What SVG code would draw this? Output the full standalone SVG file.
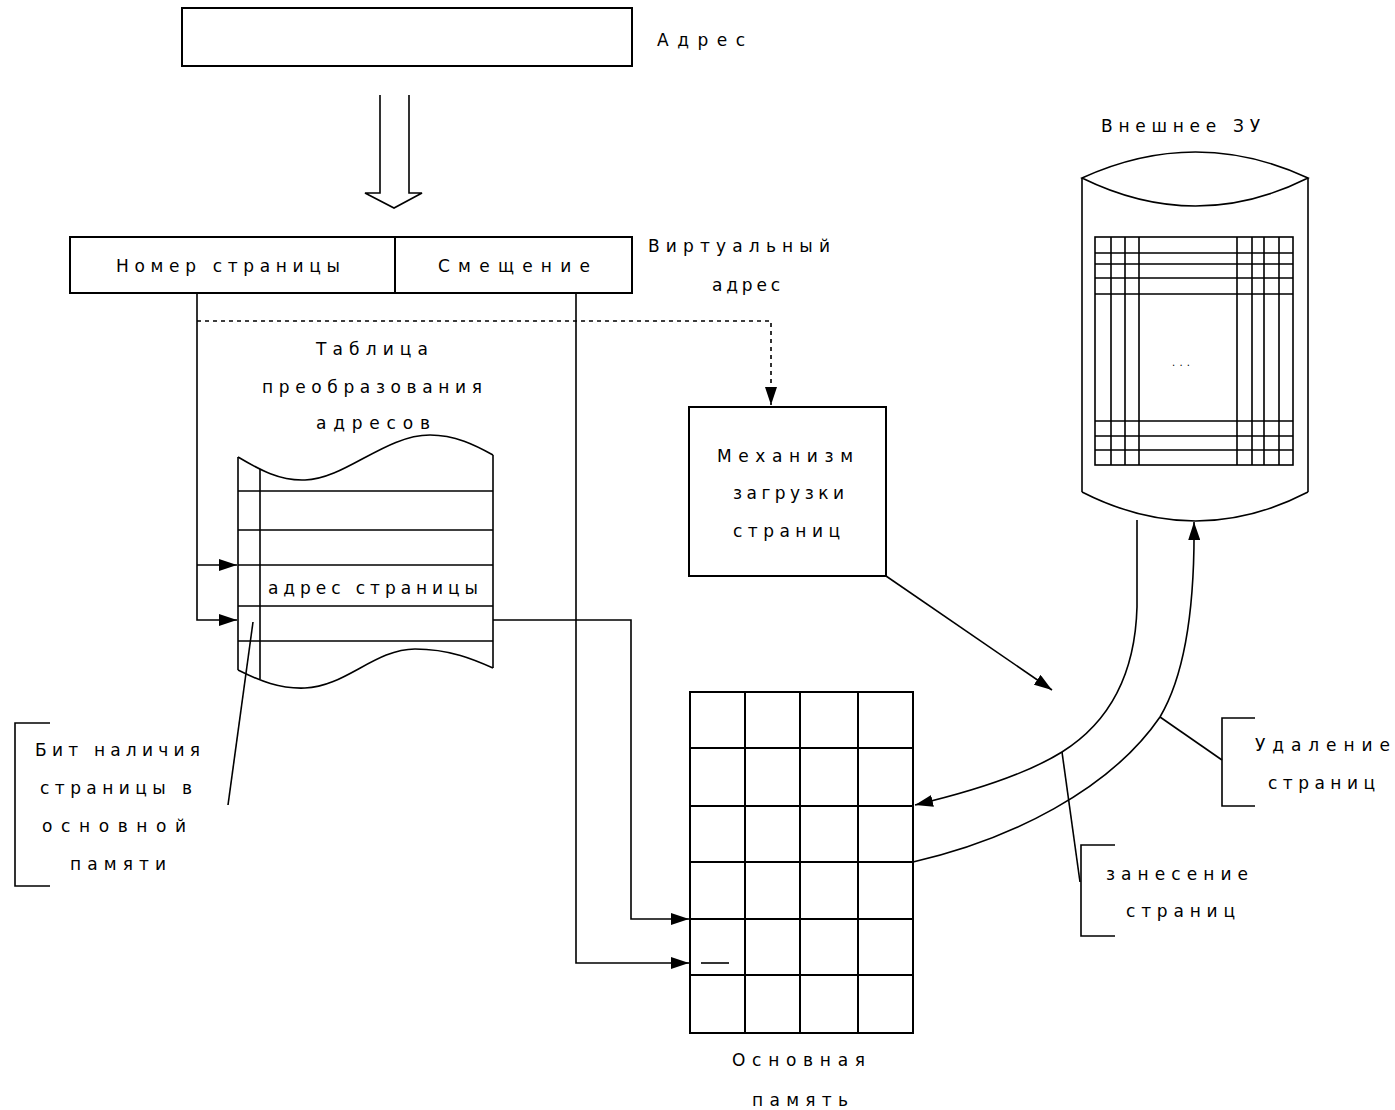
<svg xmlns="http://www.w3.org/2000/svg" width="1395" height="1110" viewBox="0 0 1395 1110">
<style>
.s{fill:none;stroke:#000;stroke-width:2}
.l{fill:none;stroke:#000;stroke-width:1.6}
.t{font-family:"DejaVu Sans","Liberation Sans",sans-serif;font-size:17px;fill:#000}
</style>
<defs>
<marker id="ah" viewBox="0 0 18 12" refX="18" refY="6" markerWidth="18" markerHeight="12" markerUnits="userSpaceOnUse" orient="auto">
<path d="M0,0 L18,6 L0,12 Z" fill="#000"/>
</marker>
</defs>
<rect width="1395" height="1110" fill="#fff"/>

<g id="address">
<rect class="s" x="182" y="8" width="450" height="58"/>
<text class="t" x="657" y="46" textLength="88" lengthAdjust="spacing">Адрес</text>
</g>

<g id="hollow-arrow">
<path class="l" d="M380,95 L380,193 L365,193 L394,208 L422,193 L409,193 L409,95"/>
</g>

<g id="virtual-address">
<rect class="s" x="70" y="237" width="562" height="56"/>
<line class="s" x1="395" y1="237" x2="395" y2="293"/>
<text class="t" x="116" y="272" textLength="224" lengthAdjust="spacing">Номер страницы</text>
<text class="t" x="438" y="272" textLength="152" lengthAdjust="spacing">Смещение</text>
<text class="t" x="648" y="252" textLength="182" lengthAdjust="spacing">Виртуальный</text>
<text class="t" x="712" y="291" textLength="68" lengthAdjust="spacing">адрес</text>
</g>

<g id="page-table">
<text class="t" x="316" y="355" textLength="112" lengthAdjust="spacing">Таблица</text>
<text class="t" x="262" y="393" textLength="220" lengthAdjust="spacing">преобразования</text>
<text class="t" x="316" y="429" textLength="114" lengthAdjust="spacing">адресов</text>
<path class="l" d="M238,457 C260,470 280,481 305,480 C345,479 385,435 430,435 C455,435 475,445 493,455"/>
<path class="l" d="M238,670 C260,681 280,689 305,688 C345,687 375,649 415,649 C450,649 475,660 493,668"/>
<line class="l" x1="238" y1="457" x2="238" y2="670"/>
<line class="l" x1="493" y1="455" x2="493" y2="668"/>
<line class="l" x1="260" y1="469" x2="260" y2="679"/>
<line class="l" x1="238" y1="491" x2="493" y2="491"/>
<line class="l" x1="238" y1="530" x2="493" y2="530"/>
<line class="l" x1="238" y1="565" x2="493" y2="565"/>
<line class="l" x1="238" y1="606" x2="493" y2="606"/>
<line class="l" x1="238" y1="641" x2="493" y2="641"/>
<text class="t" x="268" y="594" textLength="210" lengthAdjust="spacing">адрес страницы</text>
</g>

<g id="mechanism">
<rect class="s" x="689" y="407" width="197" height="169"/>
<text class="t" x="717" y="462" textLength="136" lengthAdjust="spacing">Механизм</text>
<text class="t" x="733" y="499" textLength="111" lengthAdjust="spacing">загрузки</text>
<text class="t" x="733" y="537" textLength="107" lengthAdjust="spacing">страниц</text>
</g>

<g id="main-memory">
<rect class="s" x="690" y="692" width="223" height="341"/>
<line class="s" x1="745" y1="692" x2="745" y2="1033"/>
<line class="s" x1="800" y1="692" x2="800" y2="1033"/>
<line class="s" x1="858" y1="692" x2="858" y2="1033"/>
<line class="s" x1="690" y1="748" x2="913" y2="748"/>
<line class="s" x1="690" y1="806" x2="913" y2="806"/>
<line class="s" x1="690" y1="862" x2="913" y2="862"/>
<line class="s" x1="690" y1="919" x2="913" y2="919"/>
<line class="s" x1="690" y1="975" x2="913" y2="975"/>
<line class="l" x1="701" y1="963" x2="729" y2="963"/>
<text class="t" x="732" y="1066" textLength="133" lengthAdjust="spacing">Основная</text>
<text class="t" x="752" y="1106" textLength="96" lengthAdjust="spacing">память</text>
</g>

<g id="external-storage">
<text class="t" x="1101" y="132" textLength="159" lengthAdjust="spacing">Внешнее ЗУ</text>
<path class="l" d="M1082,178 Q1196,126 1308,178 Q1196,234 1082,178 Z"/>
<line class="l" x1="1082" y1="178" x2="1082" y2="492"/>
<line class="l" x1="1308" y1="178" x2="1308" y2="492"/>
<path class="l" d="M1082,492 Q1196,550 1308,492"/>
<rect class="l" x="1095" y="237" width="198" height="228"/>
<path class="l" d="M1111,237V465M1125,237V465M1139,237V465M1237,237V465M1252,237V465M1264,237V465M1279,237V465"/>
<path class="l" d="M1095,253H1293M1095,264H1293M1095,278H1293M1095,294H1293M1095,421H1293M1095,436H1293M1095,450H1293"/>
<text class="t" x="1172" y="366" style="font-size:10px" textLength="18" lengthAdjust="spacing">...</text>
</g>

<g id="label-presence-bit">
<path class="l" d="M50,723 L15,723 L15,886 L50,886"/>
<text class="t" x="35" y="756" textLength="165" lengthAdjust="spacing">Бит наличия</text>
<text class="t" x="40" y="794" textLength="152" lengthAdjust="spacing">страницы в</text>
<text class="t" x="42" y="832" textLength="144" lengthAdjust="spacing">основной</text>
<text class="t" x="70" y="870" textLength="96" lengthAdjust="spacing">памяти</text>
</g>

<g id="label-removal">
<path class="l" d="M1255,718 L1222,718 L1222,806 L1255,806"/>
<text class="t" x="1255" y="751" textLength="135" lengthAdjust="spacing">Удаление</text>
<text class="t" x="1268" y="789" textLength="107" lengthAdjust="spacing">страниц</text>
</g>

<g id="label-loading">
<path class="l" d="M1115,845 L1081,845 L1081,936 L1115,936"/>
<text class="t" x="1106" y="880" textLength="142" lengthAdjust="spacing">занесение</text>
<text class="t" x="1126" y="917" textLength="109" lengthAdjust="spacing">страниц</text>
</g>

<g id="connectors">
<path class="l" d="M197,293 L197,620 L237,620" marker-end="url(#ah)"/>
<path class="l" d="M197,565 L237,565" marker-end="url(#ah)"/>
<path class="l" d="M197,321 L771,321 L771,405" stroke-dasharray="4,4" marker-end="url(#ah)"/>
<path class="l" d="M576,293 L576,963 L689,963" marker-end="url(#ah)"/>
<path class="l" d="M493,620 L631,620 L631,919 L689,919" marker-end="url(#ah)"/>
<line class="l" x1="253" y1="622" x2="228" y2="805"/>
<line class="l" x1="886" y1="576" x2="1052" y2="690" marker-end="url(#ah)"/>
<path class="l" d="M1137,520 L1137,607 C1135,680 1105,725 1062,752 C1025,775 970,792 915,805" marker-end="url(#ah)"/>
<path class="l" d="M913,862 C1010,840 1110,790 1160,717 C1185,675 1195,610 1194,522" marker-end="url(#ah)"/>
<line class="l" x1="1062" y1="752" x2="1080" y2="882"/>
<line class="l" x1="1160" y1="717" x2="1222" y2="760"/>
</g>
</svg>
